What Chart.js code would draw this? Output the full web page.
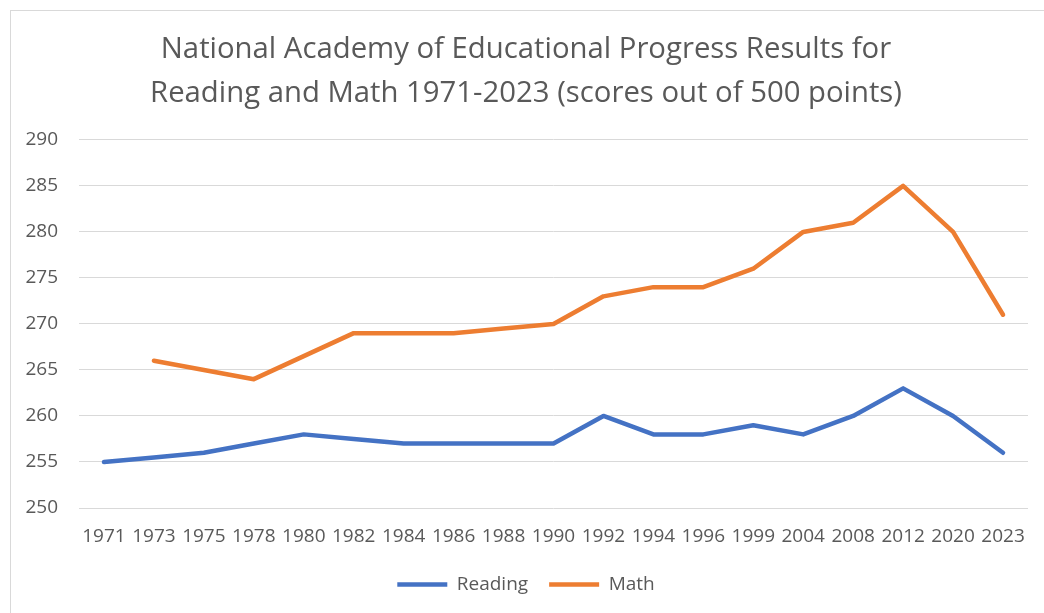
<!DOCTYPE html>
<html lang="en">
<head>
<meta charset="UTF-8">
<title>NAEP Reading and Math 1971-2023</title>
<script src="https://cdn.jsdelivr.net/npm/chart.js"></script>
<style>
  html, body { margin: 0; padding: 0; background: #fff; overflow: hidden; }
  .frame {
    position: absolute; left: 10px; top: 10px; width: 1200px; height: 800px;
    border-top: 1px solid #d9d9d9; border-left: 1px solid #d9d9d9;
  }
  .chart-box { position: absolute; left: 0; top: 0; width: 1044px; height: 613px; }
</style>
</head>
<body>
<div class="frame"></div>
<div class="chart-box"><canvas id="grafico" width="1044" height="613"></canvas></div>

<script>
// datos
const years = ['1971', '1973', '1975', '1978', '1980', '1982', '1984', '1986', '1988', '1990',
               '1992', '1994', '1996', '1999', '2004', '2008', '2012', '2020', '2023'];
const reading = [255, 255.5, 256, 257, 258, 257.5, 257, 257, 257, 257,
                 260, 258, 258, 259, 258, 260, 263, 260, 256];
const math = [null, 266, 265, 264, 266.5, 269, 269, 269, 269.5, 270,
              273, 274, 274, 276, 280, 281, 285, 280, 271];
const yMin = 250, yMax = 290, yStep = 5;
const titleLines = ['National Academy of Educational Progress Results for',
                    'Reading and Math 1971-2023 (scores out of 500 points)'];

const textColor = '#595959';
const gridColor = '#d9d9d9';
const tickFont = { family: "'Open Sans', sans-serif", size: 19 };

const ctx = document.getElementById('grafico').getContext('2d');
const chart = new Chart(ctx, {
    type: 'line',
    data: {
        labels: years,
        datasets: [
            { label: 'Reading', data: reading, borderColor: '#4472c4', backgroundColor: '#4472c4',
              borderWidth: 4.5, pointRadius: 0, pointStyle: 'line', borderCapStyle: 'round',
              borderJoinStyle: 'round', tension: 0 },
            { label: 'Math', data: math, borderColor: '#ed7d31', backgroundColor: '#ed7d31',
              borderWidth: 4.5, pointRadius: 0, pointStyle: 'line', borderCapStyle: 'round',
              borderJoinStyle: 'round', tension: 0 }
        ]
    },
    options: {
        responsive: false,
        animation: false,
        devicePixelRatio: 1,
        // padding izquierdo para correr titulo y leyenda un poco a la derecha
        layout: { padding: { left: 24, right: 16, top: 0, bottom: 9 } },
        plugins: {
            title: {
                display: true,
                text: titleLines,
                color: textColor,
                font: { family: "'Open Sans', sans-serif", size: 29.3, weight: 'normal', lineHeight: 1.5 },
                padding: { top: 28, bottom: 24 }
            },
            legend: {
                position: 'bottom',
                labels: {
                    color: textColor,
                    font: tickFont,
                    usePointStyle: true,
                    pointStyleWidth: 50,
                    padding: 21
                }
            },
            tooltip: { enabled: false }
        },
        scales: {
            x: {
                offset: true,
                grid: { display: false },
                border: { display: false },
                ticks: { color: textColor, font: tickFont, padding: 9, maxRotation: 0, autoSkip: false },
                afterFit: (scale) => { scale.height = 46; }
            },
            y: {
                min: yMin,
                max: yMax,
                grid: { color: gridColor, lineWidth: 1, drawTicks: false },
                border: { display: false },
                ticks: { stepSize: yStep, color: textColor, font: tickFont, padding: 21 },
                afterFit: (scale) => { scale.width = 55; }
            }
        }
    }
});
</script>
</body>
</html>
